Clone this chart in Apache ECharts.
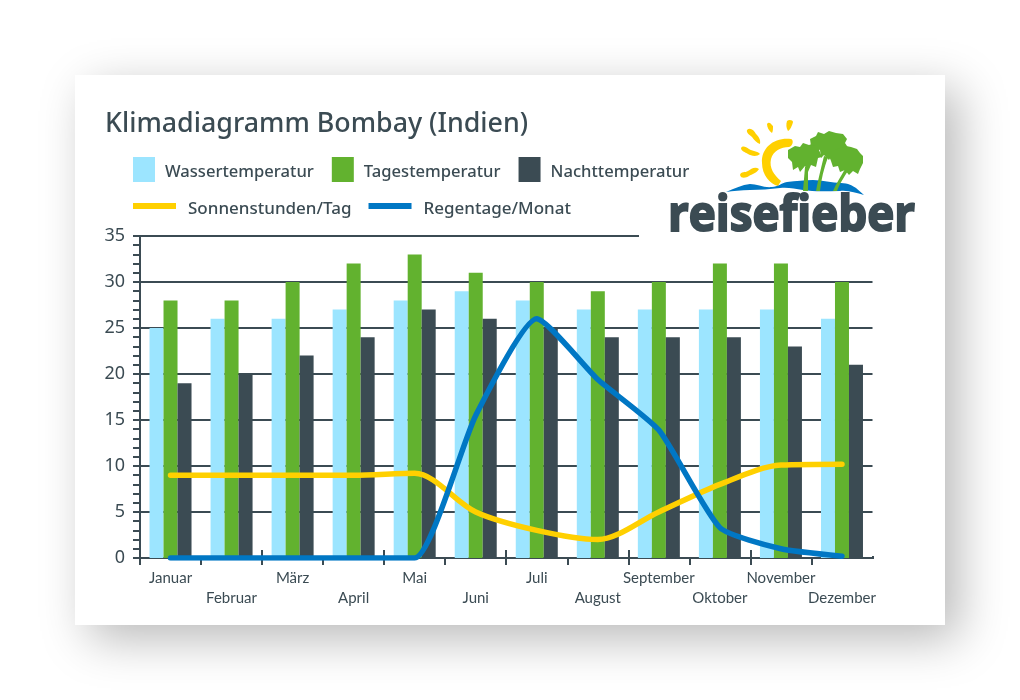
<!DOCTYPE html>
<html>
<head>
<meta charset="utf-8">
<style>html,body{margin:0;background:#fff}#main{width:1020px;height:700px}</style>
<script src="https://cdn.jsdelivr.net/npm/echarts@6/dist/echarts.min.js"></script>
</head>
<body>
<div id="main"></div>
<script>
var months = ['Januar','Februar','März','April','Mai','Juni','Juli','August','September','Oktober','November','Dezember'];
var wasser = [25,26,26,27,28,29,28,27,27,27,27,26];
var tag = [28,28,30,32,33,31,30,29,30,32,32,30];
var nacht = [19,20,22,24,27,26,25,24,24,24,23,21];
var sonne = [9,9,9,9,9.2,5,3,2,5,8,10.1,10.2];
var regen = [0,0,0,0,0,15.5,26,19.4,13.9,3.3,1,0.2];

var dark = '#3b4b53', green = '#62b22f', light = '#9ce5ff', yellow = '#ffd000', blue = '#0077c4';
var font = 'Noto Sans';

var myChart = echarts.init(document.getElementById('main'));

// logo pieces, graphic has no plain path type so they get registered as shapes
var shapeCount = 0;
function logo() {
	var els = [];
	function p(d, fill) {
		var name = 'logoPart' + (shapeCount++);
		echarts.graphic.registerShape(name, echarts.graphic.extendPath(d, {}));
		els.push({type:name, z:5, shape:{}, style:{fill:fill}});
	}
	// sun + rays
	p('M791 139C775 137 761 147 762 163C762 175 770 184 778 186L781 181C774 175 769 168 771 159C773 151 781 147 789 147C793 146 794 140 791 139Z', yellow);
	p('M787 121C789 119 793 120 793 122C792 126 790 130 788 131C786 128 786 124 787 121Z', yellow);
	p('M767 124C769 121 771 124 773 126C773 129 773 131 772 133C769 131 767 127 767 124Z', yellow);
	p('M747 130C750 127 754 130 756 134C758 136 761 139 760 144C757 143 754 140 752 137C750 135 746 133 747 130Z', yellow);
	p('M741 148C743 145 746 147 749 149C752 151 758 151 760 154C757 157 751 156 748 154C745 152 741 151 741 148Z', yellow);
	p('M740 175C741 171 745 173 748 171C751 169 755 166 759 169C757 173 752 174 749 176C746 178 741 179 740 175Z', yellow);
	// water
	p('M726 192C735 188 742 185 750 184C757 184 764 188 772 187C778 187 781 183 787 182C796 181 805 180 813 180C822 180 832 183 841 183C848 183 853 186 856 188L864 195C856 193 848 190 840 191C828 191 815 192 803 190C795 189 788 187 780 188C770 189 760 190 750 190C741 190 733 191 726 192Z', blue);
	// trunks
	p('M803 191L805 167L808 167L808 191Z', green);
	p('M816 191C818 180 821 168 824 156L828 157C824 168 821 180 820 191Z', green);
	p('M833 191C836 184 841 176 845 169L848 171C844 177 839 185 837 191Z', green);
	// palm crowns
	p('M788 150L795 146L800 147L803 143L809 145L815 143L822 148L819 150L822 157L818 158L816 167L811 165L808 172L805 166L800 172L798 167L793 170L792 162L788 158Z', green);
	p('M810 139L816 136L818 132L824 134L829 131L836 133L843 134L847 139L845 143L849 149L843 150L838 157L833 153L829 160L824 155L821 158L820 150L815 145L811 146Z', green);
	p('M829 156L835 150L840 148L846 146L851 147L857 149L860 153L863 156L863 163L860 169L858 174L853 171L849 175L845 170L840 172L838 166L833 167L831 161Z', green);
	return els;
}

var option = {
	backgroundColor: '#fff',
	animation: false,
	textStyle: {fontFamily: font},
	title: {
		text: 'Klimadiagramm Bombay (Indien)',
		left: 100, top: 106,
		textStyle: {fontFamily: 'Noto Sans', fontSize: 26.8, fontWeight: 500, color: dark}
	},
	legend: [
		{
			// taller icon box with empty lower part, the text sits a bit below the swatch centre
			left: 128, top: 152, itemWidth: 22, itemHeight: 31, itemGap: 18, selectedMode: false,
			icon: 'path://M0 0H22V25H0ZM0 31h0',
			data: ['Wassertemperatur','Tagestemperatur','Nachttemperatur'],
			textStyle: {fontFamily: font, fontSize: 16.6, fontWeight: 500, color: dark, padding: [0,0,0,5]}
		},
		{
			left: 128, top: 196, itemWidth: 43, itemHeight: 13, itemGap: 17, selectedMode: false,
			icon: 'path://M0 0H43V6H0ZM0 13h0',
			data: ['Sonnenstunden/Tag','Regentage/Monat'],
			textStyle: {fontFamily: font, fontSize: 17, fontWeight: 500, color: dark, padding: [0,0,0,7]}
		}
	],
	grid: {left: 140, top: 236, width: 732.5, height: 322},
	xAxis: [
		{
			type: 'category', data: months,
			axisLine: {lineStyle: {color: dark, width: 2}},
			axisTick: {show: true, alignWithLabel: false, length: 7, lineStyle: {color: dark, width: 2}},
			axisLabel: {
				interval: 0, margin: 10, color: dark, fontFamily: 'Lato', fontSize: 15, lineHeight: 20,
				formatter: function(v, i){ return i % 2 ? '\n' + v : v; }
			}
		},
		{
			type: 'category', data: months, position: 'bottom',
			axisLine: {show: false},
			axisTick: {show: true, inside: true, length: 8, lineStyle: {color: dark, width: 2}},
			axisLabel: {show: false}
		}
	],
	yAxis: {
		type: 'value', min: 0, max: 35, interval: 5,
		axisLine: {show: true, lineStyle: {color: dark, width: 2}},
		axisTick: {show: true, length: 7, lineStyle: {color: dark, width: 2}},
		minorTick: {show: true, splitNumber: 5, length: 7, lineStyle: {color: dark, width: 2}},
		axisLabel: {color: dark, fontFamily: 'Noto Sans', fontSize: 18, margin: 15},
		splitLine: {show: true, lineStyle: {color: dark, width: 2}}
	},
	series: [
		{name:'Wassertemperatur', type:'bar', data:wasser, barWidth:14, barGap:'0%', itemStyle:{color:light}},
		{name:'Tagestemperatur', type:'bar', data:tag, barWidth:14, barGap:'0%', itemStyle:{color:green}},
		{name:'Nachttemperatur', type:'bar', data:nacht, barWidth:14, barGap:'0%', itemStyle:{color:dark}},
		{name:'Sonnenstunden/Tag', type:'line', data:sonne, smooth:0.3, symbol:'none', lineStyle:{color:yellow, width:5.5, cap:'round'}, itemStyle:{color:yellow}, z:3},
		{name:'Regentage/Monat', type:'line', data:regen, smooth:0.18, symbol:'none', lineStyle:{color:blue, width:5.5, cap:'round'}, itemStyle:{color:blue}, z:4}
	],
	graphic: [
		{type:'rect', z:-10, shape:{x:75,y:75,width:870,height:550}, style:{fill:'#fff', shadowBlur:45, shadowOffsetX:14, shadowOffsetY:14, shadowColor:'rgba(0,0,0,0.28)'}},
		{type:'rect', z:4, shape:{x:639,y:100,width:290,height:138}, style:{fill:'#fff'}},
		// last x tick does not exist in the original
		{type:'rect', z:4, shape:{x:871.5,y:546,width:5,height:10}, style:{fill:'#fff'}},
		{type:'rect', z:4, shape:{x:871.5,y:559,width:5,height:9}, style:{fill:'#fff'}},
		{type:'text', z:5, x:668, y:192, scaleX:0.915, style:{text:'reisefieber', fontFamily:'Open Sans', fontWeight:'bold', fontSize:50, fill:dark, stroke:dark, lineWidth:2, lineJoin:'round'}}
	].concat(logo())
};
myChart.setOption(option);
</script>
</body>
</html>
